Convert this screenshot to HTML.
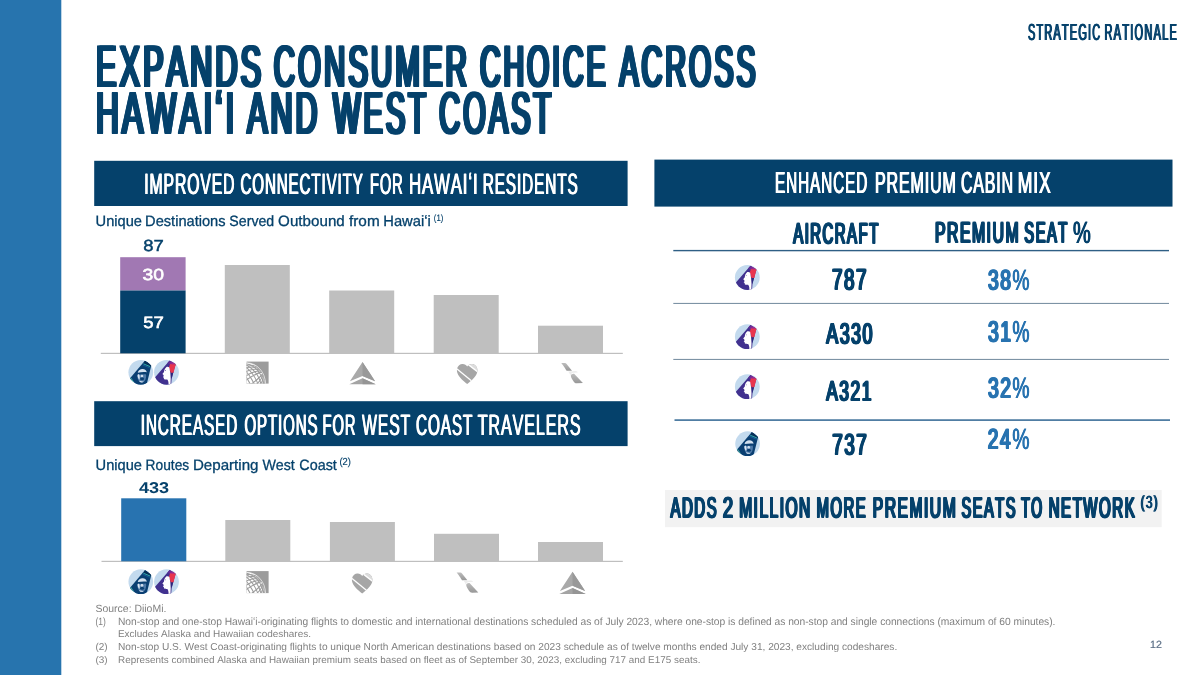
<!DOCTYPE html>
<html lang="en">
<head>
<meta charset="utf-8">
<title>Expands Consumer Choice Across Hawai&#699;i and West Coast</title>
<style>
html,body{margin:0;padding:0;background:#fff;}
body{width:1200px;height:675px;position:relative;overflow:hidden;font-family:"Liberation Sans",sans-serif;}
#shapes{position:absolute;left:0;top:0;width:1200px;height:675px;}
.t{position:absolute;left:0;top:0;white-space:nowrap;font-size:100px;line-height:1;transform-origin:0 0;text-rendering:geometricPrecision;font-kerning:none;font-variant-ligatures:none;margin:0;padding:0;}
</style>
</head>
<body>
<svg id="shapes" width="1200" height="675" viewBox="0 0 1200 675">
<rect x="0.00" y="0.00" width="61.30" height="675.00" fill="#2774ae"/>
<rect x="94.20" y="160.80" width="533.40" height="45.20" fill="#05416b"/>
<rect x="654.40" y="159.60" width="518.10" height="47.00" fill="#05416b"/>
<rect x="94.20" y="401.20" width="533.40" height="44.90" fill="#05416b"/>
<rect x="100.80" y="352.80" width="522.00" height="1.20" fill="#bfbfbf"/>
<rect x="120.20" y="257.20" width="65.40" height="33.30" fill="#a178b3"/>
<rect x="120.20" y="290.50" width="65.40" height="62.80" fill="#05416b"/>
<rect x="224.80" y="265.00" width="65.00" height="88.30" fill="#bfbfbf"/>
<rect x="329.20" y="290.50" width="65.00" height="62.80" fill="#bfbfbf"/>
<rect x="433.70" y="295.00" width="65.00" height="58.30" fill="#bfbfbf"/>
<rect x="538.00" y="325.70" width="65.00" height="27.60" fill="#bfbfbf"/>
<rect x="101.50" y="560.80" width="521.30" height="1.20" fill="#bfbfbf"/>
<rect x="121.20" y="498.30" width="65.10" height="63.00" fill="#2873b0"/>
<rect x="225.30" y="520.00" width="65.00" height="41.30" fill="#bfbfbf"/>
<rect x="329.90" y="522.00" width="65.00" height="39.30" fill="#bfbfbf"/>
<rect x="434.00" y="533.80" width="65.00" height="27.50" fill="#bfbfbf"/>
<rect x="538.00" y="542.00" width="65.00" height="19.30" fill="#bfbfbf"/>
<rect x="673.30" y="249.90" width="495.70" height="1.40" fill="#2f5f85"/>
<rect x="673.30" y="302.90" width="495.70" height="1.10" fill="#7d93a5"/>
<rect x="673.30" y="358.90" width="495.70" height="1.10" fill="#7d93a5"/>
<rect x="674.50" y="419.30" width="495.50" height="1.60" fill="#3d6f99"/>
<rect x="665.00" y="490.00" width="496.70" height="37.20" fill="#f2f2f2"/>
<g transform="translate(128.45 359.95) scale(1.0000)"><clipPath id="ca1"><circle cx="12.35" cy="12.35" r="12.35"/></clipPath><circle cx="12.35" cy="12.35" r="12.35" fill="#c3daee"/><g clip-path="url(#ca1)"><path d="M16.6 0.6 L22.9 5.3 L18.6 23 L14 26 L8 25 L1.4 18.6 Z" fill="#0a3f72"/><path d="M16.6 0.6 L22.9 5.3 L22.4 7.0 L15.3 3.4 Z" fill="#072f58"/><path d="M15.0 3.9 L21.8 6.7" stroke="#39b3ad" stroke-width="0.9" fill="none"/><path d="M14.2 5.0 L21.4 8.0" stroke="#1f6fb0" stroke-width="0.6" fill="none"/><path d="M2.2 17.8 L5.2 22.2" stroke="#45b9a5" stroke-width="0.9" fill="none"/><path d="M1.2 19.0 L4.0 23.0" stroke="#072f58" stroke-width="1.1" fill="none"/><path d="M9.3 12.7 C9.9 9.9 12.3 8.8 14.2 9.0 C16.5 9.2 18.1 10.5 18.3 12.3 C16.0 11.9 12.0 12.1 9.3 12.7 Z" fill="#d3e0ef"/><path d="M9.0 15.0 C9.2 14.2 10.0 13.9 10.8 14.2 L16.6 14.0 C17.5 14.2 17.9 15.0 17.7 16.4 C17.5 19.0 16.7 21.0 15.2 22.0 C13.6 23.0 11.6 22.8 10.6 21.4 C9.6 20.0 8.6 17.2 9.0 15.0 Z" fill="#4f7aa9"/><path d="M9.1 15.2 C9.3 14.4 10.0 14.2 10.7 14.4 C11.4 15.6 11.4 18.0 11.0 19.8 C10.2 19.2 9.0 17.2 9.1 15.2 Z" fill="#dde8f4"/><ellipse cx="13.5" cy="16.0" rx="1.3" ry="1.5" fill="#cfdded"/><path d="M10.6 20.8 C11.6 22.8 13.8 23.0 15.4 21.6 C14.2 21.4 12.2 21.2 10.6 20.8 Z" fill="#d5e2f0"/><ellipse cx="13.6" cy="18.8" rx="2.0" ry="1.5" fill="#0a3f72"/><path d="M10.8 14.0 L16.8 13.8" stroke="#0a3f72" stroke-width="0.9" fill="none"/></g></g>
<g transform="translate(154.10 359.90) scale(1.0000)"><clipPath id="ch2"><circle cx="12.4" cy="12.4" r="12.4"/></clipPath><linearGradient id="gh2" x1="15" y1="2" x2="21" y2="6" gradientUnits="userSpaceOnUse"><stop offset="0" stop-color="#5a2c96"/><stop offset="0.55" stop-color="#a12b8f"/><stop offset="1" stop-color="#e23a52"/></linearGradient><circle cx="12.4" cy="12.4" r="12.4" fill="#c3daee"/><g clip-path="url(#ch2)"><path d="M15.5 0.7 L21.6 4.2 L19.2 12.6 L17.6 18.8 L17.0 26 L4 26 L0.8 17.6 Z" fill="#41318f"/><path d="M16.4 12.0 L19.3 12.2 L17.4 19.2 Z" fill="#2b2a7c"/><path d="M15.5 0.7 L21.6 4.2 L20.9 6.6 L13.2 3.4 Z" fill="url(#gh2)"/><path d="M16.0 4.0 L21.5 5.0 L19.4 12.9 L16.6 12.9 L14.9 7.4 Z" fill="#e8364e"/><path d="M12.4 7.0 C13.6 6.7 14.8 7.0 15.3 7.8 L16.2 13.2 L16.6 18.6 L16.4 24.9 L14.4 24.9 C14.6 22.6 14.2 20.6 13.2 19.6 C12.0 19.8 10.4 19.6 9.7 18.8 L9.9 17.8 L8.8 17.4 L9.6 16.2 L9.4 15.2 L8.3 14.2 L9.9 12.2 C10.0 10.4 10.6 8.4 12.4 7.0 Z" fill="#ffffff"/><path d="M10.6 10.6 L11.9 10.2 L11.7 11.0 Z" fill="#41318f"/></g></g>
<g transform="translate(128.45 569.35) scale(1.0000)"><clipPath id="ca3"><circle cx="12.35" cy="12.35" r="12.35"/></clipPath><circle cx="12.35" cy="12.35" r="12.35" fill="#c3daee"/><g clip-path="url(#ca3)"><path d="M16.6 0.6 L22.9 5.3 L18.6 23 L14 26 L8 25 L1.4 18.6 Z" fill="#0a3f72"/><path d="M16.6 0.6 L22.9 5.3 L22.4 7.0 L15.3 3.4 Z" fill="#072f58"/><path d="M15.0 3.9 L21.8 6.7" stroke="#39b3ad" stroke-width="0.9" fill="none"/><path d="M14.2 5.0 L21.4 8.0" stroke="#1f6fb0" stroke-width="0.6" fill="none"/><path d="M2.2 17.8 L5.2 22.2" stroke="#45b9a5" stroke-width="0.9" fill="none"/><path d="M1.2 19.0 L4.0 23.0" stroke="#072f58" stroke-width="1.1" fill="none"/><path d="M9.3 12.7 C9.9 9.9 12.3 8.8 14.2 9.0 C16.5 9.2 18.1 10.5 18.3 12.3 C16.0 11.9 12.0 12.1 9.3 12.7 Z" fill="#d3e0ef"/><path d="M9.0 15.0 C9.2 14.2 10.0 13.9 10.8 14.2 L16.6 14.0 C17.5 14.2 17.9 15.0 17.7 16.4 C17.5 19.0 16.7 21.0 15.2 22.0 C13.6 23.0 11.6 22.8 10.6 21.4 C9.6 20.0 8.6 17.2 9.0 15.0 Z" fill="#4f7aa9"/><path d="M9.1 15.2 C9.3 14.4 10.0 14.2 10.7 14.4 C11.4 15.6 11.4 18.0 11.0 19.8 C10.2 19.2 9.0 17.2 9.1 15.2 Z" fill="#dde8f4"/><ellipse cx="13.5" cy="16.0" rx="1.3" ry="1.5" fill="#cfdded"/><path d="M10.6 20.8 C11.6 22.8 13.8 23.0 15.4 21.6 C14.2 21.4 12.2 21.2 10.6 20.8 Z" fill="#d5e2f0"/><ellipse cx="13.6" cy="18.8" rx="2.0" ry="1.5" fill="#0a3f72"/><path d="M10.8 14.0 L16.8 13.8" stroke="#0a3f72" stroke-width="0.9" fill="none"/></g></g>
<g transform="translate(154.10 569.30) scale(1.0000)"><clipPath id="ch4"><circle cx="12.4" cy="12.4" r="12.4"/></clipPath><linearGradient id="gh4" x1="15" y1="2" x2="21" y2="6" gradientUnits="userSpaceOnUse"><stop offset="0" stop-color="#5a2c96"/><stop offset="0.55" stop-color="#a12b8f"/><stop offset="1" stop-color="#e23a52"/></linearGradient><circle cx="12.4" cy="12.4" r="12.4" fill="#c3daee"/><g clip-path="url(#ch4)"><path d="M15.5 0.7 L21.6 4.2 L19.2 12.6 L17.6 18.8 L17.0 26 L4 26 L0.8 17.6 Z" fill="#41318f"/><path d="M16.4 12.0 L19.3 12.2 L17.4 19.2 Z" fill="#2b2a7c"/><path d="M15.5 0.7 L21.6 4.2 L20.9 6.6 L13.2 3.4 Z" fill="url(#gh4)"/><path d="M16.0 4.0 L21.5 5.0 L19.4 12.9 L16.6 12.9 L14.9 7.4 Z" fill="#e8364e"/><path d="M12.4 7.0 C13.6 6.7 14.8 7.0 15.3 7.8 L16.2 13.2 L16.6 18.6 L16.4 24.9 L14.4 24.9 C14.6 22.6 14.2 20.6 13.2 19.6 C12.0 19.8 10.4 19.6 9.7 18.8 L9.9 17.8 L8.8 17.4 L9.6 16.2 L9.4 15.2 L8.3 14.2 L9.9 12.2 C10.0 10.4 10.6 8.4 12.4 7.0 Z" fill="#ffffff"/><path d="M10.6 10.6 L11.9 10.2 L11.7 11.0 Z" fill="#41318f"/></g></g>
<g transform="translate(246.60 361.60) scale(1.0000)"><clipPath id="cu5"><rect x="0" y="0" width="22" height="22"/></clipPath><rect x="0" y="0" width="22" height="22" fill="#9c9c9c"/><g clip-path="url(#cu5)"><g transform="translate(0 22) scale(0.97 1.07) translate(0 -22)"><circle cx="0" cy="22" r="19.4" fill="#ffffff"/><g fill="none" stroke="#9c9c9c" stroke-width="1.0"><ellipse cx="0" cy="22" rx="3.0" ry="19.4" transform="rotate(-32 0 22)"/><ellipse cx="0" cy="22" rx="6.6" ry="19.4" transform="rotate(-32 0 22)"/><ellipse cx="0" cy="22" rx="10.2" ry="19.4" transform="rotate(-32 0 22)"/><ellipse cx="0" cy="22" rx="13.6" ry="19.4" transform="rotate(-32 0 22)"/><ellipse cx="0" cy="22" rx="16.6" ry="19.4" transform="rotate(-32 0 22)"/><ellipse cx="0" cy="22" rx="19.4" ry="3.0" transform="rotate(-32 0 22)"/><ellipse cx="0" cy="22" rx="19.4" ry="6.6" transform="rotate(-32 0 22)"/><ellipse cx="0" cy="22" rx="19.4" ry="10.2" transform="rotate(-32 0 22)"/><ellipse cx="0" cy="22" rx="19.4" ry="13.6" transform="rotate(-32 0 22)"/><ellipse cx="0" cy="22" rx="19.4" ry="16.6" transform="rotate(-32 0 22)"/></g><circle cx="0" cy="22" r="19.4" fill="none" stroke="#f4f4f4" stroke-width="0.7"/></g></g></g>
<g transform="translate(246.60 571.10) scale(1.0000)"><clipPath id="cu6"><rect x="0" y="0" width="22" height="22"/></clipPath><rect x="0" y="0" width="22" height="22" fill="#9c9c9c"/><g clip-path="url(#cu6)"><g transform="translate(0 22) scale(0.97 1.07) translate(0 -22)"><circle cx="0" cy="22" r="19.4" fill="#ffffff"/><g fill="none" stroke="#9c9c9c" stroke-width="1.0"><ellipse cx="0" cy="22" rx="3.0" ry="19.4" transform="rotate(-32 0 22)"/><ellipse cx="0" cy="22" rx="6.6" ry="19.4" transform="rotate(-32 0 22)"/><ellipse cx="0" cy="22" rx="10.2" ry="19.4" transform="rotate(-32 0 22)"/><ellipse cx="0" cy="22" rx="13.6" ry="19.4" transform="rotate(-32 0 22)"/><ellipse cx="0" cy="22" rx="16.6" ry="19.4" transform="rotate(-32 0 22)"/><ellipse cx="0" cy="22" rx="19.4" ry="3.0" transform="rotate(-32 0 22)"/><ellipse cx="0" cy="22" rx="19.4" ry="6.6" transform="rotate(-32 0 22)"/><ellipse cx="0" cy="22" rx="19.4" ry="10.2" transform="rotate(-32 0 22)"/><ellipse cx="0" cy="22" rx="19.4" ry="13.6" transform="rotate(-32 0 22)"/><ellipse cx="0" cy="22" rx="19.4" ry="16.6" transform="rotate(-32 0 22)"/></g><circle cx="0" cy="22" r="19.4" fill="none" stroke="#f4f4f4" stroke-width="0.7"/></g></g></g>
<g transform="translate(362.50 362.00) scale(1.0000 1.0000)"><path d="M0 0 L-12.6 19.3 L0 14.0 L12.6 19.3 Z" fill="#a9a9a9"/><path d="M0 0 L12.6 19.3 L0 14.0 Z" fill="#999999"/><path d="M0 16.2 L-13.2 22.2 L13.2 22.2 Z" fill="#a4a4a4"/><path d="M0 16.2 L13.2 22.2 L0 22.2 Z" fill="#959595"/></g>
<g transform="translate(572.50 571.70) scale(1.0000 1.0000)"><path d="M0 0 L-12.6 19.3 L0 14.0 L12.6 19.3 Z" fill="#a9a9a9"/><path d="M0 0 L12.6 19.3 L0 14.0 Z" fill="#999999"/><path d="M0 16.2 L-13.2 22.2 L13.2 22.2 Z" fill="#a4a4a4"/><path d="M0 16.2 L13.2 22.2 L0 22.2 Z" fill="#959595"/></g>
<g transform="translate(456.80 363.90) scale(1.0000 1.0000)"><clipPath id="cs7"><path d="M10.4 20.2 C7.0 17.6 2.2 13.8 0.6 9.2 C-0.8 5.0 1.2 0.6 5.4 0.2 C7.6 0 9.4 1.0 10.4 2.6 C11.4 1.0 13.2 0 15.4 0.2 C19.6 0.6 21.6 5.0 20.2 9.2 C18.6 13.8 13.8 17.6 10.4 20.2 Z"/></clipPath><path d="M10.4 20.2 C7.0 17.6 2.2 13.8 0.6 9.2 C-0.8 5.0 1.2 0.6 5.4 0.2 C7.6 0 9.4 1.0 10.4 2.6 C11.4 1.0 13.2 0 15.4 0.2 C19.6 0.6 21.6 5.0 20.2 9.2 C18.6 13.8 13.8 17.6 10.4 20.2 Z" fill="#a6a6a6"/><g clip-path="url(#cs7)"><path d="M9.5 -1 L22 8.6 L22 -1 Z" fill="#dcdcdc"/><path d="M8.6 -1.6 L22.5 9.2" stroke="#ffffff" stroke-width="1.5" fill="none"/><path d="M-1 4.0 L15.5 17.6" stroke="#ffffff" stroke-width="1.3" fill="none"/></g></g>
<g transform="translate(351.80 573.40) scale(1.0000 1.0000)"><clipPath id="cs8"><path d="M10.4 20.2 C7.0 17.6 2.2 13.8 0.6 9.2 C-0.8 5.0 1.2 0.6 5.4 0.2 C7.6 0 9.4 1.0 10.4 2.6 C11.4 1.0 13.2 0 15.4 0.2 C19.6 0.6 21.6 5.0 20.2 9.2 C18.6 13.8 13.8 17.6 10.4 20.2 Z"/></clipPath><path d="M10.4 20.2 C7.0 17.6 2.2 13.8 0.6 9.2 C-0.8 5.0 1.2 0.6 5.4 0.2 C7.6 0 9.4 1.0 10.4 2.6 C11.4 1.0 13.2 0 15.4 0.2 C19.6 0.6 21.6 5.0 20.2 9.2 C18.6 13.8 13.8 17.6 10.4 20.2 Z" fill="#a6a6a6"/><g clip-path="url(#cs8)"><path d="M9.5 -1 L22 8.6 L22 -1 Z" fill="#dcdcdc"/><path d="M8.6 -1.6 L22.5 9.2" stroke="#ffffff" stroke-width="1.5" fill="none"/><path d="M-1 4.0 L15.5 17.6" stroke="#ffffff" stroke-width="1.3" fill="none"/></g></g>
<g transform="translate(561.20 362.80) scale(1.0000 1.0000)"><linearGradient id="ga9" x1="0" y1="0" x2="0" y2="1"><stop offset="0" stop-color="#bdbdbd"/><stop offset="1" stop-color="#979797"/></linearGradient><path d="M0 0.2 L3.6 0.2 C4.4 0.2 4.9 0.6 5.4 1.2 L10.8 8.0 L5.4 8.0 C4.6 6.4 1.6 2.0 0 0.2 Z" fill="url(#ga9)"/><path d="M9.6 12.6 C9.9 11.4 11.4 10.6 12.9 10.9 L21.7 20.2 L15.6 20.5 C14.2 20.5 13.2 19.8 12.4 18.6 C11.2 16.8 9.6 14.4 9.6 12.6 Z" fill="url(#ga9)"/><path d="M7.0 8.6 L14.6 8.2 C15.6 8.4 16.4 9.0 16.6 9.6 L12.4 9.9 C11.0 10.2 9.8 11.0 9.2 12.4 C8.6 10.8 7.8 9.6 7.0 8.6 Z" fill="#ececec"/></g>
<g transform="translate(456.60 572.20) scale(1.0000 1.0000)"><linearGradient id="ga10" x1="0" y1="0" x2="0" y2="1"><stop offset="0" stop-color="#bdbdbd"/><stop offset="1" stop-color="#979797"/></linearGradient><path d="M0 0.2 L3.6 0.2 C4.4 0.2 4.9 0.6 5.4 1.2 L10.8 8.0 L5.4 8.0 C4.6 6.4 1.6 2.0 0 0.2 Z" fill="url(#ga10)"/><path d="M9.6 12.6 C9.9 11.4 11.4 10.6 12.9 10.9 L21.7 20.2 L15.6 20.5 C14.2 20.5 13.2 19.8 12.4 18.6 C11.2 16.8 9.6 14.4 9.6 12.6 Z" fill="url(#ga10)"/><path d="M7.0 8.6 L14.6 8.2 C15.6 8.4 16.4 9.0 16.6 9.6 L12.4 9.9 C11.0 10.2 9.8 11.0 9.2 12.4 C8.6 10.8 7.8 9.6 7.0 8.6 Z" fill="#ececec"/></g>
<g transform="translate(734.90 265.10) scale(1.0000)"><clipPath id="ch11"><circle cx="12.4" cy="12.4" r="12.4"/></clipPath><linearGradient id="gh11" x1="15" y1="2" x2="21" y2="6" gradientUnits="userSpaceOnUse"><stop offset="0" stop-color="#5a2c96"/><stop offset="0.55" stop-color="#a12b8f"/><stop offset="1" stop-color="#e23a52"/></linearGradient><circle cx="12.4" cy="12.4" r="12.4" fill="#c3daee"/><g clip-path="url(#ch11)"><path d="M15.5 0.7 L21.6 4.2 L19.2 12.6 L17.6 18.8 L17.0 26 L4 26 L0.8 17.6 Z" fill="#41318f"/><path d="M16.4 12.0 L19.3 12.2 L17.4 19.2 Z" fill="#2b2a7c"/><path d="M15.5 0.7 L21.6 4.2 L20.9 6.6 L13.2 3.4 Z" fill="url(#gh11)"/><path d="M16.0 4.0 L21.5 5.0 L19.4 12.9 L16.6 12.9 L14.9 7.4 Z" fill="#e8364e"/><path d="M12.4 7.0 C13.6 6.7 14.8 7.0 15.3 7.8 L16.2 13.2 L16.6 18.6 L16.4 24.9 L14.4 24.9 C14.6 22.6 14.2 20.6 13.2 19.6 C12.0 19.8 10.4 19.6 9.7 18.8 L9.9 17.8 L8.8 17.4 L9.6 16.2 L9.4 15.2 L8.3 14.2 L9.9 12.2 C10.0 10.4 10.6 8.4 12.4 7.0 Z" fill="#ffffff"/><path d="M10.6 10.6 L11.9 10.2 L11.7 11.0 Z" fill="#41318f"/></g></g>
<g transform="translate(734.90 324.30) scale(1.0000)"><clipPath id="ch12"><circle cx="12.4" cy="12.4" r="12.4"/></clipPath><linearGradient id="gh12" x1="15" y1="2" x2="21" y2="6" gradientUnits="userSpaceOnUse"><stop offset="0" stop-color="#5a2c96"/><stop offset="0.55" stop-color="#a12b8f"/><stop offset="1" stop-color="#e23a52"/></linearGradient><circle cx="12.4" cy="12.4" r="12.4" fill="#c3daee"/><g clip-path="url(#ch12)"><path d="M15.5 0.7 L21.6 4.2 L19.2 12.6 L17.6 18.8 L17.0 26 L4 26 L0.8 17.6 Z" fill="#41318f"/><path d="M16.4 12.0 L19.3 12.2 L17.4 19.2 Z" fill="#2b2a7c"/><path d="M15.5 0.7 L21.6 4.2 L20.9 6.6 L13.2 3.4 Z" fill="url(#gh12)"/><path d="M16.0 4.0 L21.5 5.0 L19.4 12.9 L16.6 12.9 L14.9 7.4 Z" fill="#e8364e"/><path d="M12.4 7.0 C13.6 6.7 14.8 7.0 15.3 7.8 L16.2 13.2 L16.6 18.6 L16.4 24.9 L14.4 24.9 C14.6 22.6 14.2 20.6 13.2 19.6 C12.0 19.8 10.4 19.6 9.7 18.8 L9.9 17.8 L8.8 17.4 L9.6 16.2 L9.4 15.2 L8.3 14.2 L9.9 12.2 C10.0 10.4 10.6 8.4 12.4 7.0 Z" fill="#ffffff"/><path d="M10.6 10.6 L11.9 10.2 L11.7 11.0 Z" fill="#41318f"/></g></g>
<g transform="translate(734.90 374.30) scale(1.0000)"><clipPath id="ch13"><circle cx="12.4" cy="12.4" r="12.4"/></clipPath><linearGradient id="gh13" x1="15" y1="2" x2="21" y2="6" gradientUnits="userSpaceOnUse"><stop offset="0" stop-color="#5a2c96"/><stop offset="0.55" stop-color="#a12b8f"/><stop offset="1" stop-color="#e23a52"/></linearGradient><circle cx="12.4" cy="12.4" r="12.4" fill="#c3daee"/><g clip-path="url(#ch13)"><path d="M15.5 0.7 L21.6 4.2 L19.2 12.6 L17.6 18.8 L17.0 26 L4 26 L0.8 17.6 Z" fill="#41318f"/><path d="M16.4 12.0 L19.3 12.2 L17.4 19.2 Z" fill="#2b2a7c"/><path d="M15.5 0.7 L21.6 4.2 L20.9 6.6 L13.2 3.4 Z" fill="url(#gh13)"/><path d="M16.0 4.0 L21.5 5.0 L19.4 12.9 L16.6 12.9 L14.9 7.4 Z" fill="#e8364e"/><path d="M12.4 7.0 C13.6 6.7 14.8 7.0 15.3 7.8 L16.2 13.2 L16.6 18.6 L16.4 24.9 L14.4 24.9 C14.6 22.6 14.2 20.6 13.2 19.6 C12.0 19.8 10.4 19.6 9.7 18.8 L9.9 17.8 L8.8 17.4 L9.6 16.2 L9.4 15.2 L8.3 14.2 L9.9 12.2 C10.0 10.4 10.6 8.4 12.4 7.0 Z" fill="#ffffff"/><path d="M10.6 10.6 L11.9 10.2 L11.7 11.0 Z" fill="#41318f"/></g></g>
<g transform="translate(735.25 431.35) scale(1.0000)"><clipPath id="ca14"><circle cx="12.35" cy="12.35" r="12.35"/></clipPath><circle cx="12.35" cy="12.35" r="12.35" fill="#c3daee"/><g clip-path="url(#ca14)"><path d="M16.6 0.6 L22.9 5.3 L18.6 23 L14 26 L8 25 L1.4 18.6 Z" fill="#0a3f72"/><path d="M16.6 0.6 L22.9 5.3 L22.4 7.0 L15.3 3.4 Z" fill="#072f58"/><path d="M15.0 3.9 L21.8 6.7" stroke="#39b3ad" stroke-width="0.9" fill="none"/><path d="M14.2 5.0 L21.4 8.0" stroke="#1f6fb0" stroke-width="0.6" fill="none"/><path d="M2.2 17.8 L5.2 22.2" stroke="#45b9a5" stroke-width="0.9" fill="none"/><path d="M1.2 19.0 L4.0 23.0" stroke="#072f58" stroke-width="1.1" fill="none"/><path d="M9.3 12.7 C9.9 9.9 12.3 8.8 14.2 9.0 C16.5 9.2 18.1 10.5 18.3 12.3 C16.0 11.9 12.0 12.1 9.3 12.7 Z" fill="#d3e0ef"/><path d="M9.0 15.0 C9.2 14.2 10.0 13.9 10.8 14.2 L16.6 14.0 C17.5 14.2 17.9 15.0 17.7 16.4 C17.5 19.0 16.7 21.0 15.2 22.0 C13.6 23.0 11.6 22.8 10.6 21.4 C9.6 20.0 8.6 17.2 9.0 15.0 Z" fill="#4f7aa9"/><path d="M9.1 15.2 C9.3 14.4 10.0 14.2 10.7 14.4 C11.4 15.6 11.4 18.0 11.0 19.8 C10.2 19.2 9.0 17.2 9.1 15.2 Z" fill="#dde8f4"/><ellipse cx="13.5" cy="16.0" rx="1.3" ry="1.5" fill="#cfdded"/><path d="M10.6 20.8 C11.6 22.8 13.8 23.0 15.4 21.6 C14.2 21.4 12.2 21.2 10.6 20.8 Z" fill="#d5e2f0"/><ellipse cx="13.6" cy="18.8" rx="2.0" ry="1.5" fill="#0a3f72"/><path d="M10.8 14.0 L16.8 13.8" stroke="#0a3f72" stroke-width="0.9" fill="none"/></g></g>
</svg>
<div class="t" style="color:#05416b;letter-spacing:10.119px;text-shadow:5.06px 0 0 #05416b,-5.06px 0 0 #05416b,5.06px 1.70px 0 #05416b,-5.06px 1.70px 0 #05416b,0 1.70px 0 #05416b;transform:matrix(0.30636,0,0,0.58867,96.037,36.263);">EXPANDS</div>
<div class="t" style="color:#05416b;letter-spacing:10.553px;text-shadow:5.28px 0 0 #05416b,-5.28px 0 0 #05416b,5.28px 1.70px 0 #05416b,-5.28px 1.70px 0 #05416b,0 1.70px 0 #05416b;transform:matrix(0.29374,0,0,0.58867,273.758,36.263);">CONSUMER</div>
<div class="t" style="color:#05416b;letter-spacing:10.976px;text-shadow:5.49px 0 0 #05416b,-5.49px 0 0 #05416b,5.49px 1.70px 0 #05416b,-5.49px 1.70px 0 #05416b,0 1.70px 0 #05416b;transform:matrix(0.28245,0,0,0.58867,480.116,36.263);">CHOICE</div>
<div class="t" style="color:#05416b;letter-spacing:10.859px;text-shadow:5.43px 0 0 #05416b,-5.43px 0 0 #05416b,5.43px 1.70px 0 #05416b,-5.43px 1.70px 0 #05416b,0 1.70px 0 #05416b;transform:matrix(0.28549,0,0,0.58867,619.494,36.263);">ACROSS</div>
<div class="t" style="color:#05416b;letter-spacing:9.773px;text-shadow:4.89px 0 0 #05416b,-4.89px 0 0 #05416b,4.89px 1.68px 0 #05416b,-4.89px 1.68px 0 #05416b,0 1.68px 0 #05416b;transform:matrix(0.31719,0,0,0.59594,95.948,82.645);">HAWAIʻI</div>
<div class="t" style="color:#05416b;letter-spacing:10.242px;text-shadow:5.12px 0 0 #05416b,-5.12px 0 0 #05416b,5.12px 1.68px 0 #05416b,-5.12px 1.68px 0 #05416b,0 1.68px 0 #05416b;transform:matrix(0.30269,0,0,0.59594,247.291,82.645);">AND</div>
<div class="t" style="color:#05416b;letter-spacing:10.739px;text-shadow:5.37px 0 0 #05416b,-5.37px 0 0 #05416b,5.37px 1.68px 0 #05416b,-5.37px 1.68px 0 #05416b,0 1.68px 0 #05416b;transform:matrix(0.28868,0,0,0.59594,333.123,82.645);">WEST</div>
<div class="t" style="color:#05416b;letter-spacing:10.740px;text-shadow:5.37px 0 0 #05416b,-5.37px 0 0 #05416b,5.37px 1.68px 0 #05416b,-5.37px 1.68px 0 #05416b,0 1.68px 0 #05416b;transform:matrix(0.28863,0,0,0.59594,439.284,82.645);">COAST</div>
<div class="t" style="color:#05416b;letter-spacing:10.985px;text-shadow:5.49px 0 0 #05416b,-5.49px 0 0 #05416b;transform:matrix(0.10924,0,0,0.23256,1028.004,20.532);">STRATEGIC</div>
<div class="t" style="color:#05416b;letter-spacing:10.833px;text-shadow:5.42px 0 0 #05416b,-5.42px 0 0 #05416b;transform:matrix(0.11077,0,0,0.23256,1104.491,20.532);">RATIONALE</div>
<div class="t" style="color:#fff;letter-spacing:5.721px;text-shadow:2.86px 0 0 #fff,-2.86px 0 0 #fff;transform:matrix(0.15730,0,0,0.29434,144.298,169.281);">IMPROVED</div>
<div class="t" style="color:#fff;letter-spacing:5.956px;text-shadow:2.98px 0 0 #fff,-2.98px 0 0 #fff;transform:matrix(0.15111,0,0,0.29434,240.483,169.281);">CONNECTIVITY</div>
<div class="t" style="color:#fff;letter-spacing:6.152px;text-shadow:3.08px 0 0 #fff,-3.08px 0 0 #fff;transform:matrix(0.14629,0,0,0.29434,370.050,169.281);">FOR</div>
<div class="t" style="color:#fff;letter-spacing:5.387px;text-shadow:2.69px 0 0 #fff,-2.69px 0 0 #fff;transform:matrix(0.16706,0,0,0.29434,409.080,169.281);">HAWAIʻI</div>
<div class="t" style="color:#fff;letter-spacing:5.862px;text-shadow:2.93px 0 0 #fff,-2.93px 0 0 #fff;transform:matrix(0.15352,0,0,0.29434,482.691,169.281);">RESIDENTS</div>
<div class="t" style="color:#fff;letter-spacing:5.874px;text-shadow:2.94px 0 0 #fff,-2.94px 0 0 #fff;transform:matrix(0.15323,0,0,0.30524,774.993,167.355);">ENHANCED</div>
<div class="t" style="color:#fff;letter-spacing:5.627px;text-shadow:2.81px 0 0 #fff,-2.81px 0 0 #fff;transform:matrix(0.15993,0,0,0.30524,874.938,167.355);">PREMIUM</div>
<div class="t" style="color:#fff;letter-spacing:5.671px;text-shadow:2.84px 0 0 #fff,-2.84px 0 0 #fff;transform:matrix(0.15870,0,0,0.30524,960.944,167.355);">CABIN</div>
<div class="t" style="color:#fff;letter-spacing:5.127px;text-shadow:2.56px 0 0 #fff,-2.56px 0 0 #fff;transform:matrix(0.17554,0,0,0.30524,1017.710,167.355);">MIX</div>
<div class="t" style="color:#fff;letter-spacing:5.877px;text-shadow:2.94px 0 0 #fff,-2.94px 0 0 #fff;transform:matrix(0.15313,0,0,0.29434,140.737,410.281);">INCREASED</div>
<div class="t" style="color:#fff;letter-spacing:5.983px;text-shadow:2.99px 0 0 #fff,-2.99px 0 0 #fff;transform:matrix(0.15043,0,0,0.29434,244.437,410.281);">OPTIONS</div>
<div class="t" style="color:#fff;letter-spacing:6.089px;text-shadow:3.04px 0 0 #fff,-3.04px 0 0 #fff;transform:matrix(0.14780,0,0,0.29434,322.538,410.281);">FOR</div>
<div class="t" style="color:#fff;letter-spacing:5.723px;text-shadow:2.86px 0 0 #fff,-2.86px 0 0 #fff;transform:matrix(0.15727,0,0,0.29434,362.081,410.281);">WEST</div>
<div class="t" style="color:#fff;letter-spacing:5.868px;text-shadow:2.93px 0 0 #fff,-2.93px 0 0 #fff;transform:matrix(0.15336,0,0,0.29434,415.971,410.281);">COAST</div>
<div class="t" style="color:#fff;letter-spacing:5.592px;text-shadow:2.80px 0 0 #fff,-2.80px 0 0 #fff;transform:matrix(0.16094,0,0,0.29434,477.689,410.281);">TRAVELERS</div>
<div class="t" style="color:#05416b;-webkit-text-stroke:2.00px #05416b;transform:matrix(0.14636,0,0,0.14971,95.571,213.574);">Unique</div>
<div class="t" style="color:#05416b;-webkit-text-stroke:2.00px #05416b;transform:matrix(0.14615,0,0,0.14971,145.101,213.574);">Destinations</div>
<div class="t" style="color:#05416b;-webkit-text-stroke:2.00px #05416b;transform:matrix(0.14157,0,0,0.14971,229.357,213.574);">Served</div>
<div class="t" style="color:#05416b;-webkit-text-stroke:2.00px #05416b;transform:matrix(0.15184,0,0,0.14971,278.081,213.574);">Outbound</div>
<div class="t" style="color:#05416b;-webkit-text-stroke:2.00px #05416b;transform:matrix(0.15365,0,0,0.14971,348.982,213.574);">from</div>
<div class="t" style="color:#05416b;-webkit-text-stroke:2.00px #05416b;transform:matrix(0.14705,0,0,0.14971,383.294,213.574);">Hawaiʻi</div>
<div class="t" style="color:#05416b;-webkit-text-stroke:1.61px #05416b;transform:matrix(0.07740,0,0,0.09302,433.820,213.393);">(1)</div>
<div class="t" style="color:#05416b;-webkit-text-stroke:2.81px #05416b;transform:matrix(0.18458,0,0,0.15989,143.198,237.710);">87</div>
<div class="t" style="color:#fff;-webkit-text-stroke:3.72px #fff;transform:matrix(0.19321,0,0,0.16134,142.464,266.586);">30</div>
<div class="t" style="color:#fff;-webkit-text-stroke:3.69px #fff;transform:matrix(0.18591,0,0,0.16279,143.156,314.463);">57</div>
<div class="t" style="color:#05416b;-webkit-text-stroke:2.00px #05416b;transform:matrix(0.14636,0,0,0.14971,95.571,457.574);">Unique</div>
<div class="t" style="color:#05416b;-webkit-text-stroke:2.00px #05416b;transform:matrix(0.13769,0,0,0.14971,145.570,457.574);">Routes</div>
<div class="t" style="color:#05416b;-webkit-text-stroke:2.00px #05416b;transform:matrix(0.15109,0,0,0.14971,192.961,457.574);">Departing</div>
<div class="t" style="color:#05416b;-webkit-text-stroke:2.00px #05416b;transform:matrix(0.14209,0,0,0.14971,262.438,457.574);">West</div>
<div class="t" style="color:#05416b;-webkit-text-stroke:2.00px #05416b;transform:matrix(0.14368,0,0,0.14971,299.270,457.574);">Coast</div>
<div class="t" style="color:#05416b;-webkit-text-stroke:1.47px #05416b;transform:matrix(0.09379,0,0,0.10175,339.418,456.652);">(2)</div>
<div class="t" style="color:#05416b;font-weight:700;transform:matrix(0.18056,0,0,0.15698,138.927,479.957);">433</div>
<div class="t" style="color:#05416b;letter-spacing:10.057px;text-shadow:5.03px 0 0 #05416b,-5.03px 0 0 #05416b,5.03px 3.40px 0 #05416b,-5.03px 3.40px 0 #05416b,0 3.40px 0 #05416b;transform:matrix(0.14914,0,0,0.29434,793.221,218.281);">AIRCRAFT</div>
<div class="t" style="color:#05416b;letter-spacing:9.496px;text-shadow:4.75px 0 0 #05416b,-4.75px 0 0 #05416b,4.75px 3.40px 0 #05416b,-4.75px 3.40px 0 #05416b,0 3.40px 0 #05416b;transform:matrix(0.15796,0,0,0.29434,934.954,217.281);">PREMIUM</div>
<div class="t" style="color:#05416b;letter-spacing:10.147px;text-shadow:5.07px 0 0 #05416b,-5.07px 0 0 #05416b,5.07px 3.40px 0 #05416b,-5.07px 3.40px 0 #05416b,0 3.40px 0 #05416b;transform:matrix(0.14783,0,0,0.29434,1024.279,217.281);">SEAT</div>
<div class="t" style="color:#05416b;letter-spacing:4.516px;text-shadow:2.26px 0 0 #05416b,-2.26px 0 0 #05416b;transform:matrix(0.19930,0,0,0.30887,1073.040,217.046);">%</div>
<div class="t" style="color:#05416b;letter-spacing:7.940px;text-shadow:3.97px 0 0 #05416b,-3.97px 0 0 #05416b,3.97px 3.40px 0 #05416b,-3.97px 3.40px 0 #05416b,0 3.40px 0 #05416b;transform:matrix(0.18891,0,0,0.29434,831.981,264.281);">787</div>
<div class="t" style="color:#05416b;letter-spacing:8.394px;text-shadow:4.20px 0 0 #05416b,-4.20px 0 0 #05416b,4.20px 3.44px 0 #05416b,-4.20px 3.44px 0 #05416b,0 3.44px 0 #05416b;transform:matrix(0.17869,0,0,0.29070,826.215,318.590);">A330</div>
<div class="t" style="color:#05416b;letter-spacing:8.611px;text-shadow:4.31px 0 0 #05416b,-4.31px 0 0 #05416b,4.31px 3.57px 0 #05416b,-4.31px 3.57px 0 #05416b,0 3.57px 0 #05416b;transform:matrix(0.17420,0,0,0.27980,826.216,376.517);">A321</div>
<div class="t" style="color:#05416b;letter-spacing:7.967px;text-shadow:3.98px 0 0 #05416b,-3.98px 0 0 #05416b,3.98px 3.40px 0 #05416b,-3.98px 3.40px 0 #05416b,0 3.40px 0 #05416b;transform:matrix(0.18827,0,0,0.29434,832.285,429.281);">737</div>
<div class="t" style="color:#2873b0;letter-spacing:7.809px;text-shadow:3.90px 0 0 #2873b0,-3.90px 0 0 #2873b0,3.90px 3.57px 0 #2873b0,-3.90px 3.57px 0 #2873b0,0 3.57px 0 #2873b0;transform:matrix(0.19209,0,0,0.27980,988.018,265.517);">38</div>
<div class="t" style="color:#2873b0;letter-spacing:4.688px;text-shadow:2.34px 0 0 #2873b0,-2.34px 0 0 #2873b0;transform:matrix(0.19196,0,0,0.29434,1012.366,265.281);">%</div>
<div class="t" style="color:#2873b0;letter-spacing:7.768px;text-shadow:3.88px 0 0 #2873b0,-3.88px 0 0 #2873b0,3.88px 3.44px 0 #2873b0,-3.88px 3.44px 0 #2873b0,0 3.44px 0 #2873b0;transform:matrix(0.19310,0,0,0.29070,988.015,316.590);">31</div>
<div class="t" style="color:#2873b0;letter-spacing:4.688px;text-shadow:2.34px 0 0 #2873b0,-2.34px 0 0 #2873b0;transform:matrix(0.19196,0,0,0.30524,1012.366,316.355);">%</div>
<div class="t" style="color:#2873b0;letter-spacing:7.757px;text-shadow:3.88px 0 0 #2873b0,-3.88px 0 0 #2873b0,3.88px 3.53px 0 #2873b0,-3.88px 3.53px 0 #2873b0,0 3.53px 0 #2873b0;transform:matrix(0.19337,0,0,0.28344,988.014,373.208);">32</div>
<div class="t" style="color:#2873b0;letter-spacing:4.688px;text-shadow:2.34px 0 0 #2873b0,-2.34px 0 0 #2873b0;transform:matrix(0.19196,0,0,0.29797,1012.366,372.973);">%</div>
<div class="t" style="color:#2873b0;letter-spacing:7.824px;text-shadow:3.91px 0 0 #2873b0,-3.91px 0 0 #2873b0,3.91px 3.57px 0 #2873b0,-3.91px 3.57px 0 #2873b0,0 3.57px 0 #2873b0;transform:matrix(0.19173,0,0,0.27980,987.786,424.517);">24</div>
<div class="t" style="color:#2873b0;letter-spacing:4.688px;text-shadow:2.34px 0 0 #2873b0,-2.34px 0 0 #2873b0;transform:matrix(0.19196,0,0,0.29434,1012.366,424.281);">%</div>
<div class="t" style="color:#05416b;letter-spacing:9.990px;text-shadow:4.99px 0 0 #05416b,-4.99px 0 0 #05416b,4.99px 3.44px 0 #05416b,-4.99px 3.44px 0 #05416b,0 3.44px 0 #05416b;transform:matrix(0.15016,0,0,0.29070,670.421,492.590);">ADDS</div>
<div class="t" style="color:#05416b;letter-spacing:8.039px;text-shadow:4.02px 0 0 #05416b,-4.02px 0 0 #05416b,4.02px 3.44px 0 #05416b,-4.02px 3.44px 0 #05416b,0 3.44px 0 #05416b;transform:matrix(0.18658,0,0,0.29070,722.812,492.590);">2</div>
<div class="t" style="color:#05416b;letter-spacing:9.658px;text-shadow:4.83px 0 0 #05416b,-4.83px 0 0 #05416b,4.83px 3.44px 0 #05416b,-4.83px 3.44px 0 #05416b,0 3.44px 0 #05416b;transform:matrix(0.15531,0,0,0.29070,739.176,492.590);">MILLION</div>
<div class="t" style="color:#05416b;letter-spacing:10.076px;text-shadow:5.04px 0 0 #05416b,-5.04px 0 0 #05416b,5.04px 3.44px 0 #05416b,-5.04px 3.44px 0 #05416b,0 3.44px 0 #05416b;transform:matrix(0.14887,0,0,0.29070,816.529,492.590);">MORE</div>
<div class="t" style="color:#05416b;letter-spacing:9.576px;text-shadow:4.79px 0 0 #05416b,-4.79px 0 0 #05416b,4.79px 3.44px 0 #05416b,-4.79px 3.44px 0 #05416b,0 3.44px 0 #05416b;transform:matrix(0.15664,0,0,0.29070,872.765,492.590);">PREMIUM</div>
<div class="t" style="color:#05416b;letter-spacing:10.282px;text-shadow:5.14px 0 0 #05416b,-5.14px 0 0 #05416b,5.14px 3.44px 0 #05416b,-5.14px 3.44px 0 #05416b,0 3.44px 0 #05416b;transform:matrix(0.14588,0,0,0.29070,961.588,492.590);">SEATS</div>
<div class="t" style="color:#05416b;letter-spacing:10.747px;text-shadow:5.37px 0 0 #05416b,-5.37px 0 0 #05416b,5.37px 3.44px 0 #05416b,-5.37px 3.44px 0 #05416b,0 3.44px 0 #05416b;transform:matrix(0.13957,0,0,0.29070,1021.237,492.590);">TO</div>
<div class="t" style="color:#05416b;letter-spacing:9.956px;text-shadow:4.98px 0 0 #05416b,-4.98px 0 0 #05416b,4.98px 3.44px 0 #05416b,-4.98px 3.44px 0 #05416b,0 3.44px 0 #05416b;transform:matrix(0.15067,0,0,0.29070,1048.714,492.590);">NETWORK</div>
<div class="t" style="color:#05416b;letter-spacing:9.015px;text-shadow:4.51px 0 0 #05416b,-4.51px 0 0 #05416b;transform:matrix(0.12202,0,0,0.17442,1140.593,493.474);">(3)</div>
<div class="t" style="color:#808080;transform:matrix(0.10447,0,0,0.10538,95.526,603.343);">Source: DiioMi.</div>
<div class="t" style="color:#808080;transform:matrix(0.08469,0,0,0.10538,95.475,616.343);">(1)</div>
<div class="t" style="color:#808080;transform:matrix(0.10209,0,0,0.10538,117.963,616.343);">Non-stop and one-stop Hawaiʻi-originating flights to domestic and international destinations scheduled as of July 2023, where one-stop is defined as non-stop and single connections (maximum of 60 minutes).</div>
<div class="t" style="color:#808080;transform:matrix(0.09945,0,0,0.09811,117.984,628.960);">Excludes Alaska and Hawaiian codeshares.</div>
<div class="t" style="color:#808080;transform:matrix(0.09926,0,0,0.10102,95.384,641.713);">(2)</div>
<div class="t" style="color:#808080;transform:matrix(0.10136,0,0,0.10102,117.969,641.713);">Non-stop U.S. West Coast-originating flights to unique North American destinations based on 2023 schedule as of twelve months ended July 31, 2023, excluding codeshares.</div>
<div class="t" style="color:#808080;transform:matrix(0.09926,0,0,0.09811,95.384,654.960);">(3)</div>
<div class="t" style="color:#808080;transform:matrix(0.09912,0,0,0.09811,117.987,654.960);">Represents combined Alaska and Hawaiian premium seats based on fleet as of September 30, 2023, excluding 717 and E175 seats.</div>
<div class="t" style="color:#5b6f86;-webkit-text-stroke:1.91px #5b6f86;transform:matrix(0.10651,0,0,0.10465,1149.989,639.404);">12</div>
</body>
</html>
